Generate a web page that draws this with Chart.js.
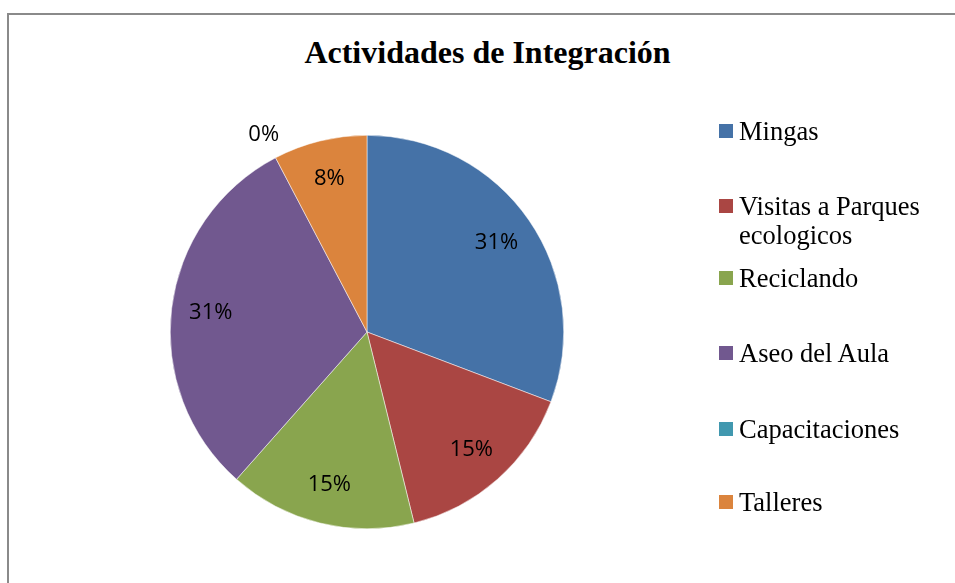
<!DOCTYPE html>
<html>
<head>
<meta charset="utf-8">
<script src="https://cdn.jsdelivr.net/npm/chart.js@4/dist/chart.umd.min.js"></script>
<style>
  body { margin: 0; background: #fff; }
  #wrap { position: relative; width: 955px; height: 583px; overflow: hidden; }
  #frame { position: absolute; left: 7px; top: 13px; width: 960px; height: 590px;
           border-left: 2px solid #8a8a8a; border-top: 2px solid #8a8a8a; }
  #title { position: absolute; left: 0; width: 975px; top: 34px; text-align: center; line-height: 38px;
           font: bold 32px "Liberation Serif", "Times New Roman", serif; color: #000; }
  canvas { position: absolute; left: 0; top: 0; }
  .leg { position: absolute; left: 719px; font: 26.5px "Liberation Serif", "Times New Roman", serif;
         color: #000; line-height: 29px; }
  .leg span.box { position: absolute; left: 0; top: 7px; width: 14px; height: 14px; }
  .leg span.txt { display: block; margin-left: 20px; }
</style>
</head>
<body>
<div id="wrap">
  <div id="frame"></div>
  <div id="title">Actividades de Integración</div>
  <canvas id="pie" width="955" height="583"></canvas>
  <div id="legend"></div>
</div>
<script>
// Actividades de Integración - counts per activity (shown as %)
const categories = ["Mingas", "Visitas a Parques ecologicos", "Reciclando", "Aseo del Aula", "Capacitaciones", "Talleres"];
const legendLines = [["Mingas"], ["Visitas a Parques", "ecologicos"], ["Reciclando"], ["Aseo del Aula"], ["Capacitaciones"], ["Talleres"]];
const values = [4, 2, 2, 4, 0, 1];
const colors = ["#4572A7", "#AA4643", "#89A54E", "#71588F", "#4198AF", "#DB843D"];
const legendTops = [117, 192, 264, 339, 415, 488];

// legend (html so the two-line label wraps like the original)
const legend = document.getElementById("legend");
categories.forEach((c, i) => {
  const d = document.createElement("div");
  d.className = "leg";
  d.style.top = legendTops[i] + "px";
  d.innerHTML = '<span class="box" style="background:' + colors[i] + '"></span>' +
    '<span class="txt">' + legendLines[i].join("<br>") + '</span>';
  legend.appendChild(d);
});

// percentage labels on the slices
const pctLabels = {
  id: "pctLabels",
  afterDatasetsDraw(chart) {
    const ctx = chart.ctx;
    const meta = chart.getDatasetMeta(0);
    const total = values.reduce((a, b) => a + b, 0);
    ctx.save();
    ctx.font = '22px "Open Sans", Lato, sans-serif';
    ctx.fillStyle = "#000";
    ctx.textAlign = "center";
    ctx.textBaseline = "middle";
    meta.data.forEach((arc, i) => {
      const p = arc.getProps(["x", "y", "startAngle", "endAngle", "outerRadius"], true);
      const mid = (p.startAngle + p.endAngle) / 2;
      const r = values[i] === 0 ? p.outerRadius * 1.13 : p.outerRadius * 0.8;
      const pct = Math.round(values[i] / total * 100) + "%";
      ctx.fillText(pct, p.x + Math.cos(mid) * r, p.y + Math.sin(mid) * r);
    });
    ctx.restore();
  }
};

new Chart("pie", {
  type: "pie",
  data: {
    labels: categories,
    datasets: [{
      data: values,
      backgroundColor: colors,
      borderColor: "#ffffff",
      borderWidth: 0.5
    }]
  },
  options: {
    responsive: false,
    animation: false,
    layout: { padding: { left: 170, right: 391, top: 135, bottom: 54 } },
    plugins: {
      legend: { display: false },
      title: { display: false },
      tooltip: { enabled: false }
    }
  },
  plugins: [pctLabels]
});
</script>
</body>
</html>
